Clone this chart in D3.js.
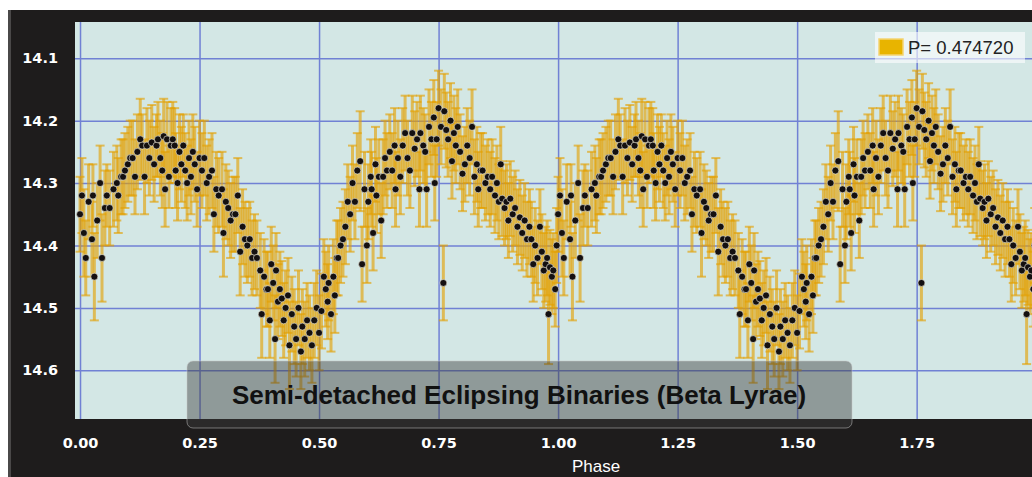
<!DOCTYPE html>
<html>
<head>
<meta charset="utf-8">
<script src="https://d3js.org/d3.v7.min.js"></script>
<style>
  html, body { margin: 0; padding: 0; background: #fff; }
  svg { display: block; font-family: "Liberation Sans", Arial, sans-serif; }
</style>
</head>
<body>
<svg id="chart" width="1032" height="477"></svg>
<script>
// folded light curve, one cycle (drawn twice: phase and phase + 1)
const phase = [
  0.000, 0.004, 0.008, 0.012, 0.018, 0.025, 0.027, 0.030, 0.036, 0.042, 0.046, 0.052, 0.056, 0.062, 0.070, 0.077, 0.080, 0.086, 0.090, 0.094,
  0.100, 0.105, 0.110, 0.115, 0.120, 0.126, 0.130, 0.135, 0.140, 0.145, 0.150, 0.155, 0.160, 0.163, 0.168, 0.172, 0.175, 0.178, 0.182, 0.186,
  0.190, 0.194, 0.198, 0.200, 0.204, 0.208, 0.212, 0.216, 0.220, 0.224, 0.228, 0.232, 0.236, 0.240, 0.245, 0.250,
  0.255, 0.260, 0.265, 0.270, 0.276, 0.280, 0.285, 0.290, 0.297, 0.300, 0.305, 0.310, 0.315, 0.320, 0.325, 0.330, 0.335, 0.340, 0.345, 0.350,
  0.355, 0.360, 0.365, 0.370, 0.377, 0.380, 0.385, 0.390, 0.393, 0.397, 0.400, 0.404, 0.408, 0.410, 0.414, 0.418, 0.422, 0.426, 0.430, 0.435,
  0.438, 0.443, 0.448, 0.452, 0.457, 0.462, 0.465, 0.470, 0.475, 0.480, 0.485, 0.490, 0.495, 0.500,
  0.505, 0.510, 0.514, 0.518, 0.520, 0.525, 0.530, 0.533, 0.537, 0.540, 0.545, 0.550, 0.555, 0.560, 0.565,
  0.570, 0.575, 0.580, 0.586, 0.590, 0.595, 0.600, 0.603, 0.608, 0.610, 0.613, 0.618, 0.620, 0.625, 0.630, 0.634, 0.638, 0.642, 0.648, 0.653,
  0.658, 0.660, 0.665, 0.670, 0.675, 0.680, 0.685, 0.690, 0.695, 0.700, 0.705, 0.710, 0.712, 0.718, 0.722, 0.725, 0.730, 0.735, 0.740, 0.742,
  0.746, 0.750, 0.755, 0.760,
  0.762, 0.766, 0.770, 0.775, 0.778, 0.782, 0.786, 0.790, 0.795, 0.800, 0.805, 0.810, 0.815, 0.820, 0.825, 0.830, 0.833, 0.838, 0.842, 0.848,
  0.853, 0.858, 0.862, 0.868, 0.872, 0.876, 0.880, 0.883, 0.888, 0.892, 0.896, 0.900, 0.905, 0.910, 0.915, 0.920, 0.925, 0.930, 0.935, 0.940,
  0.944, 0.948, 0.952, 0.957, 0.962, 0.966, 0.970, 0.974, 0.977, 0.980, 0.983, 0.987, 0.990, 0.994, 0.997
];
const mag = [
  14.35, 14.32, 14.38, 14.42, 14.33, 14.39, 14.32, 14.45, 14.36, 14.30, 14.42, 14.34, 14.32, 14.34, 14.31, 14.30, 14.32, 14.29, 14.29, 14.28,
  14.27, 14.26, 14.26, 14.29, 14.25, 14.23, 14.24, 14.29, 14.24, 14.26, 14.235, 14.27, 14.24, 14.23, 14.26, 14.28, 14.225, 14.31, 14.23, 14.29,
  14.24, 14.23, 14.24, 14.28, 14.30, 14.25, 14.27, 14.24, 14.28, 14.30, 14.26, 14.29, 14.25, 14.27, 14.31, 14.26,
  14.28, 14.26, 14.30, 14.29, 14.28, 14.35, 14.31, 14.32, 14.31, 14.38, 14.33, 14.34, 14.36, 14.35, 14.35, 14.32, 14.41, 14.37, 14.39, 14.40,
  14.39, 14.42, 14.41, 14.42, 14.44, 14.51, 14.45, 14.47, 14.47, 14.52, 14.43, 14.46, 14.55, 14.44, 14.49, 14.47, 14.485, 14.52, 14.50, 14.48,
  14.56, 14.51, 14.53, 14.55, 14.50, 14.57, 14.53, 14.55, 14.52, 14.54, 14.56, 14.52, 14.50, 14.54,
  14.505, 14.45, 14.47, 14.49, 14.46, 14.51, 14.45, 14.48, 14.42, 14.42, 14.40, 14.39, 14.37, 14.33, 14.35,
  14.30, 14.33, 14.28, 14.265, 14.43, 14.31, 14.40, 14.33, 14.29, 14.31, 14.38, 14.27, 14.32, 14.29, 14.36, 14.29, 14.26, 14.28, 14.25, 14.28,
  14.24, 14.31, 14.26, 14.29, 14.24, 14.22, 14.26, 14.28, 14.22, 14.245, 14.23, 14.31, 14.22, 14.24, 14.25, 14.31, 14.21, 14.23, 14.195, 14.30,
  14.23, 14.18, 14.21, 14.46,
  14.185, 14.215, 14.23, 14.20, 14.265, 14.22, 14.24, 14.21, 14.25, 14.285, 14.27, 14.24, 14.26, 14.21, 14.29, 14.27, 14.31, 14.28, 14.28, 14.30,
  14.29, 14.31, 14.29, 14.32, 14.30, 14.33, 14.27, 14.325, 14.34, 14.33, 14.36, 14.325, 14.35, 14.34, 14.37, 14.355, 14.38, 14.36, 14.39, 14.37,
  14.39, 14.43, 14.40, 14.42, 14.37, 14.41, 14.44, 14.43, 14.42, 14.51, 14.435, 14.45, 14.44, 14.47, 14.40
];
const err = [
  0.06, 0.06, 0.07, 0.06, 0.06, 0.06, 0.05, 0.07, 0.06, 0.06, 0.07, 0.06, 0.05, 0.06, 0.06, 0.06, 0.06, 0.06, 0.06, 0.06,
  0.06, 0.06, 0.06, 0.06, 0.06, 0.065, 0.05, 0.06, 0.06, 0.06, 0.06, 0.06, 0.05, 0.06, 0.06, 0.06, 0.06, 0.06, 0.06, 0.05,
  0.06, 0.06, 0.06, 0.06, 0.06, 0.06, 0.06, 0.05, 0.06, 0.06, 0.06, 0.06, 0.06, 0.06, 0.06, 0.06,
  0.06, 0.06, 0.06, 0.06, 0.06, 0.06, 0.06, 0.06, 0.06, 0.07, 0.06, 0.06, 0.06, 0.06, 0.06, 0.06, 0.07, 0.06, 0.06, 0.06,
  0.06, 0.06, 0.06, 0.06, 0.06, 0.07, 0.06, 0.06, 0.06, 0.06, 0.06, 0.06, 0.07, 0.06, 0.06, 0.06, 0.06, 0.06, 0.06, 0.06,
  0.07, 0.06, 0.06, 0.06, 0.06, 0.06, 0.06, 0.06, 0.06, 0.06, 0.06, 0.06, 0.06, 0.06,
  0.06, 0.06, 0.06, 0.06, 0.06, 0.06, 0.06, 0.06, 0.06, 0.06, 0.06, 0.06, 0.06, 0.06, 0.06,
  0.06, 0.06, 0.06, 0.08, 0.06, 0.06, 0.06, 0.06, 0.06, 0.06, 0.06, 0.06, 0.06, 0.06, 0.06, 0.06, 0.06, 0.06, 0.06, 0.06,
  0.06, 0.06, 0.06, 0.06, 0.06, 0.06, 0.06, 0.06, 0.06, 0.06, 0.06, 0.06, 0.06, 0.06, 0.06, 0.06, 0.06, 0.06, 0.06, 0.06,
  0.06, 0.06, 0.06, 0.06,
  0.06, 0.06, 0.06, 0.06, 0.06, 0.06, 0.06, 0.06, 0.06, 0.06, 0.06, 0.06, 0.06, 0.06, 0.06, 0.06, 0.06, 0.06, 0.06, 0.06,
  0.06, 0.06, 0.06, 0.06, 0.06, 0.06, 0.06, 0.06, 0.06, 0.06, 0.06, 0.06, 0.06, 0.06, 0.06, 0.06, 0.06, 0.06, 0.06, 0.06,
  0.06, 0.06, 0.06, 0.06, 0.06, 0.06, 0.06, 0.06, 0.06, 0.08, 0.06, 0.06, 0.06, 0.06, 0.06
];
const cycles = [0, 1];
const xTicks = [0, 0.25, 0.5, 0.75, 1, 1.25, 1.5, 1.75];
const yTicks = [14.1, 14.2, 14.3, 14.4, 14.5, 14.6];
const legendLabel = "P= 0.474720";
const titleText = "Semi-detached Eclipsing Binaries (Beta Lyrae)";
const xLabel = "Phase";

const svg = d3.select("#chart");
const W = 1032, H = 477;
const plot = { left: 75, top: 22, right: 1040, bottom: 419 };
const tickFont = "DejaVu Sans, sans-serif";

// frame: white edges, dark panel
svg.append("rect").attr("width", W).attr("height", H).attr("fill", "#ffffff");
svg.append("rect").attr("x", 8).attr("y", 10).attr("width", W).attr("height", H)
  .attr("fill", "#1e1c1c");
svg.append("rect").attr("x", 8).attr("y", 10).attr("width", 3).attr("height", H)
  .attr("fill", "#4a4848");

const x = d3.scaleLinear().domain([-0.0105, 2.008]).range([plot.left, plot.right]);
const y = d3.scaleLinear().domain([14.042, 14.678]).range([plot.top, plot.bottom]);

svg.append("defs").append("clipPath").attr("id", "clip")
  .append("rect").attr("x", plot.left).attr("y", plot.top)
  .attr("width", plot.right - plot.left).attr("height", plot.bottom - plot.top);

svg.append("rect").attr("x", plot.left).attr("y", plot.top)
  .attr("width", plot.right - plot.left).attr("height", plot.bottom - plot.top)
  .attr("fill", "#d3e7e5");

// grid
const grid = svg.append("g").attr("clip-path", "url(#clip)");
grid.append("g").attr("transform", `translate(0,${plot.bottom})`)
  .call(d3.axisBottom(x).tickValues(xTicks.concat([2])).tickSize(-(plot.bottom - plot.top)).tickFormat(""))
  .call(g => g.select(".domain").remove())
  .call(g => g.selectAll("line").attr("stroke", "#7081d4").attr("stroke-width", 1.5));
grid.append("g").attr("transform", `translate(${plot.left},0)`)
  .call(d3.axisLeft(y).tickValues(yTicks).tickSize(-(plot.right - plot.left)).tickFormat(""))
  .call(g => g.select(".domain").remove())
  .call(g => g.selectAll("line").attr("stroke", "#7081d4").attr("stroke-width", 1.5));

// points for both cycles
const pts = [];
cycles.forEach(c => {
  phase.forEach((p, i) => pts.push({ p: p + c, m: mag[i], e: err[i] }));
});

const marks = svg.append("g").attr("clip-path", "url(#clip)");
const bars = marks.append("g")
  .attr("stroke", "#e4a000").attr("stroke-opacity", 0.62);
bars.selectAll(".bar").data(pts).enter().append("line")
  .attr("x1", d => x(d.p)).attr("x2", d => x(d.p))
  .attr("y1", d => y(d.m - d.e)).attr("y2", d => y(d.m + d.e))
  .attr("stroke-width", 3);
bars.selectAll(".capTop").data(pts).enter().append("line")
  .attr("x1", d => x(d.p) - 4.5).attr("x2", d => x(d.p) + 4.5)
  .attr("y1", d => y(d.m - d.e)).attr("y2", d => y(d.m - d.e))
  .attr("stroke-width", 2);
bars.selectAll(".capBot").data(pts).enter().append("line")
  .attr("x1", d => x(d.p) - 4.5).attr("x2", d => x(d.p) + 4.5)
  .attr("y1", d => y(d.m + d.e)).attr("y2", d => y(d.m + d.e))
  .attr("stroke-width", 2);

marks.selectAll(".pt").data(pts).enter().append("circle")
  .attr("cx", d => x(d.p)).attr("cy", d => y(d.m)).attr("r", 3.5)
  .attr("fill", "#141010").attr("stroke", "#f2efe0").attr("stroke-opacity", 0.6).attr("stroke-width", 1);

// axes labels
svg.append("g").attr("transform", `translate(${plot.left},0)`)
  .call(d3.axisLeft(y).tickValues(yTicks).tickSize(0).tickPadding(17).tickFormat(d3.format(".1f")))
  .call(g => g.select(".domain").remove())
  .call(g => g.selectAll("text").attr("fill", "#ffffff").attr("font-size", 14.5)
    .attr("font-weight", "bold").attr("font-family", tickFont));
svg.append("g").attr("transform", `translate(0,${plot.bottom})`)
  .call(d3.axisBottom(x).tickValues(xTicks).tickSize(0).tickPadding(19).tickFormat(d3.format(".2f")))
  .call(g => g.select(".domain").remove())
  .call(g => g.selectAll("text").attr("fill", "#ffffff").attr("font-size", 14.5)
    .attr("font-weight", "bold").attr("font-family", tickFont));

svg.append("text").attr("x", 596).attr("y", 472).attr("text-anchor", "middle")
  .attr("fill", "#ffffff").attr("font-size", 17).text(xLabel);

// legend
svg.append("rect").attr("x", 875).attr("y", 32).attr("width", 150).attr("height", 31)
  .attr("fill", "#ffffff").attr("fill-opacity", 0.6);
svg.append("rect").attr("x", 879).attr("y", 39).attr("width", 24).attr("height", 16)
  .attr("fill", "#e8b400").attr("stroke", "#f4d472").attr("stroke-width", 1.5);
svg.append("text").attr("x", 908).attr("y", 54).attr("fill", "#222")
  .attr("font-size", 18.5).text(legendLabel);

// title box
svg.append("rect").attr("x", 187).attr("y", 361).attr("width", 665).attr("height", 67)
  .attr("rx", 6).attr("fill", "#3c3c3c").attr("fill-opacity", 0.45)
  .attr("stroke", "#c8c8c8").attr("stroke-opacity", 0.5);
svg.append("text").attr("x", 519).attr("y", 404).attr("text-anchor", "middle")
  .attr("fill", "#111").attr("font-size", 26).attr("font-weight", "bold").text(titleText);
</script>
</body>
</html>
